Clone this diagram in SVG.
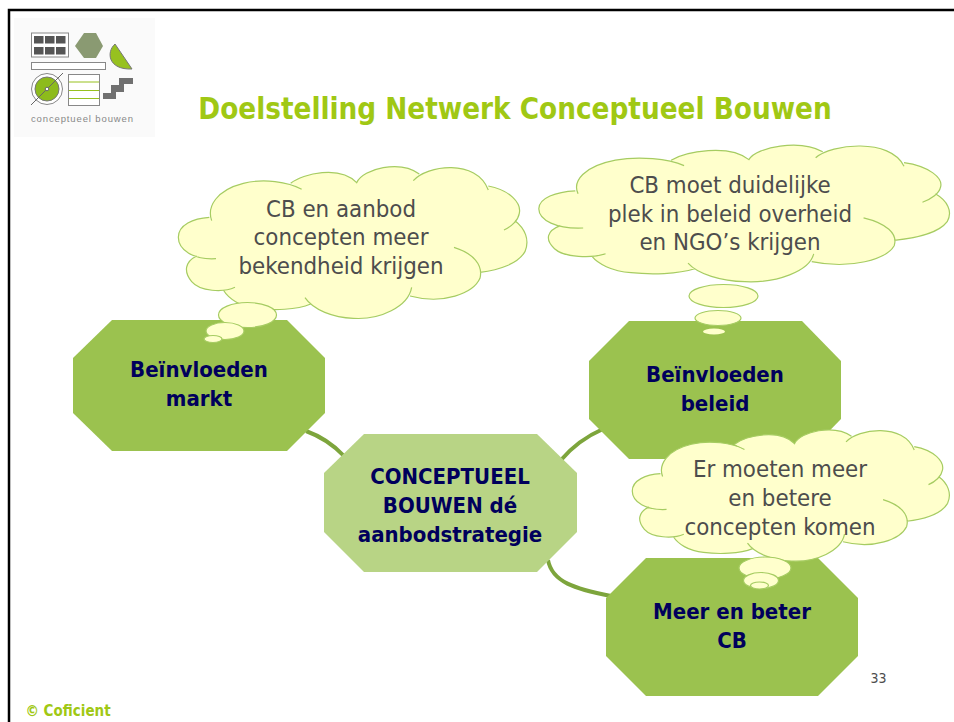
<svg xmlns="http://www.w3.org/2000/svg" width="954" height="722" viewBox="0 0 954 722">
<style>
text{font-family:"DejaVu Sans Condensed","DejaVu Sans",sans-serif;text-anchor:middle}
.oct{fill:#9bc24f}
.lbl{font-weight:bold;font-size:22px;fill:#00005c}
.say{font-size:23.800px;fill:#4d4d4d}
.cf{fill:#ffffcc;stroke:none}
.cs{fill:none;stroke:#a6cc62;stroke-width:1.2;vector-effect:non-scaling-stroke}
.bub{fill:#ffffcc;stroke:#a6cc62;stroke-width:1.2}
.con{fill:none;stroke:#7da53c;stroke-width:4}
.lg{fill:#555}
</style>
<defs>
<g id="cloud">
<path class="cf" d="M155,212C140,170 170,120 250,100C310,85 385,95 425,118L392,100C430,70 540,45 590,98C610,55 720,30 778,72L760,92C800,45 950,25 985,120L985,108C1050,120 1085,160 1078,190C1075,210 1055,230 1032,240L1065,212C1095,235 1110,270 1095,305C1075,340 1020,360 960,367L882,292C940,310 970,345 960,385C940,430 850,465 750,438L755,412C745,470 660,510 580,505C520,503 460,480 435,443L452,462C410,480 340,482 290,475C240,470 205,445 190,420L225,412C190,428 120,425 95,395C70,365 75,335 110,318L168,326C100,330 55,300 55,262C55,225 100,205 148,202Z"/>
<path class="cs" d="M155,212C140,170 170,120 250,100C310,85 385,95 425,118M392,100C430,70 540,45 590,98C610,55 720,30 778,72M760,92C800,45 950,25 985,120M985,108C1050,120 1085,160 1078,190C1075,210 1055,230 1032,240M1065,212C1095,235 1110,270 1095,305C1075,340 1020,360 960,367M882,292C940,310 970,345 960,385C940,430 850,465 750,438M755,412C745,470 660,510 580,505C520,503 460,480 435,443M452,462C410,480 340,482 290,475C240,470 205,445 190,420M225,412C190,428 120,425 95,395C70,365 75,335 110,318M168,326C100,330 55,300 55,262C55,225 100,205 148,202"/>
</g>
</defs>
<rect width="954" height="722" fill="#fff"/>
<path d="M9,722V10H954" fill="none" stroke="#000" stroke-width="2.500"/>
<g id="logo">
<rect x="14" y="18" width="141" height="119" fill="#fafafa"/>
<rect x="31.500" y="33" width="37" height="24" fill="#fff" stroke="#888"/>
<path class="lg" d="M34,36h9.500v7.500H34zM45,36h9.500v7.500H45zM56,36h9.500v7.500H56zM34,47h9.500v7.500H34zM45,47h9.500v7.500H45zM56,47h9.500v7.500H56z"/>
<path d="M75,46L84,33H96L103,46L96,58H84Z" fill="#8a9a72"/>
<path d="M115,44C106,52 108,70 132,69Z" fill="#97c11f" stroke="#777"/>
<rect x="31.500" y="62.500" width="74" height="7" fill="#fff" stroke="#888"/>
<circle cx="47" cy="89" r="15.500" fill="#fff" stroke="#888"/>
<circle cx="47" cy="89" r="12" fill="#8dbb1c" stroke="#777"/>
<path d="M31,105L63,73" stroke="#666"/>
<circle cx="47" cy="89" r="1.800" fill="#fff" stroke="#666"/>
<rect x="68.500" y="74.500" width="31" height="31" fill="#fff" stroke="#888"/>
<path d="M69,82H99M69,90.500H99M69,98.500H99" stroke="#97c11f"/>
<path d="M103,99V93H111V85H119V78H133V84H124V92H116V99Z" fill="#707070"/>
<text x="82" y="122" textLength="102" style="font-family:'Liberation Sans',sans-serif;font-size:9.500px;fill:#888">conceptueel bouwen</text>
</g>
<text id="title" x="515" y="118.500" style="font-weight:bold;font-size:29.300px;fill:#a0c814">Doelstelling Netwerk Conceptueel Bouwen</text>
<g id="connectors">
<path class="con" d="M306,431Q328,439 344,456"/>
<path class="con" d="M561,460Q578,440 603,429"/>
<path class="con" d="M548,560C552,582 575,589 611,596"/>
</g>
<g id="node-markt">
<path class="oct" d="M112,320H287L325,358V413L287,451H112L73,413V358Z"/>
<text class="lbl" x="199" y="377">Beïnvloeden</text>
<text class="lbl" x="199" y="406">markt</text>
</g>
<g id="node-beleid">
<path class="oct" d="M629,321H802L841,361V419L802,459H629L589,419V361Z"/>
<text class="lbl" x="715" y="382">Beïnvloeden</text>
<text class="lbl" x="715" y="411">beleid</text>
</g>
<g id="node-center">
<path d="M364,434H537L577,473V532L537,572H364L324,532V473Z" fill="#b8d485"/>
<text class="lbl" x="450" y="483.500">CONCEPTUEEL</text>
<text class="lbl" x="450" y="513">BOUWEN dé</text>
<text class="lbl" x="450" y="542">aanbodstrategie</text>
</g>
<g id="node-meer">
<path class="oct" d="M646,558H818L858,598V656L818,696H646L606,656V598Z"/>
<text class="lbl" x="732" y="619">Meer en beter</text>
<text class="lbl" x="732" y="648">CB</text>
</g>
<g id="thought-markt">
<use href="#cloud" transform="translate(160,150) scale(.3333)"/>
<ellipse class="bub" cx="247.500" cy="315" rx="29" ry="12.500"/>
<ellipse class="bub" cx="225" cy="331" rx="19" ry="8.500"/>
<ellipse class="bub" cx="213" cy="339" rx="9" ry="3.500"/>
<text class="say" x="341" y="217">CB en aanbod</text>
<text class="say" x="341" y="245">concepten meer</text>
<text class="say" x="341" y="274">bekendheid krijgen</text>
</g>
<g id="thought-beleid">
<use href="#cloud" transform="translate(517.200,130.200) scale(.3927,.3)"/>
<ellipse class="bub" cx="723.500" cy="296" rx="34.500" ry="11.500"/>
<ellipse class="bub" cx="718" cy="318" rx="23" ry="7.500"/>
<ellipse cx="714" cy="331.500" rx="11" ry="3" fill="#ffffcc"/>
<text class="say" x="730" y="193">CB moet duidelijke</text>
<text class="say" x="730" y="222">plek in beleid overheid</text>
<text class="say" x="730" y="250">en NGO’s krijgen</text>
</g>
<g id="thought-meer">
<use href="#cloud" transform="translate(615.600,415.400) scale(.3032,.2884)"/>
<ellipse class="bub" cx="765" cy="568" rx="26" ry="11"/>
<ellipse class="bub" cx="761" cy="580.500" rx="17.500" ry="8"/>
<ellipse class="bub" cx="759.500" cy="585.500" rx="9" ry="3.500"/>
<text class="say" x="780" y="477">Er moeten meer</text>
<text class="say" x="780" y="506">en betere</text>
<text class="say" x="780" y="535">concepten komen</text>
</g>
<text x="878.500" y="683" style="font-size:14px;fill:#4d4d4d">33</text>
<text x="68" y="716" style="font-weight:bold;font-size:15px;fill:#a0c814">© Coficient</text>
</svg>
